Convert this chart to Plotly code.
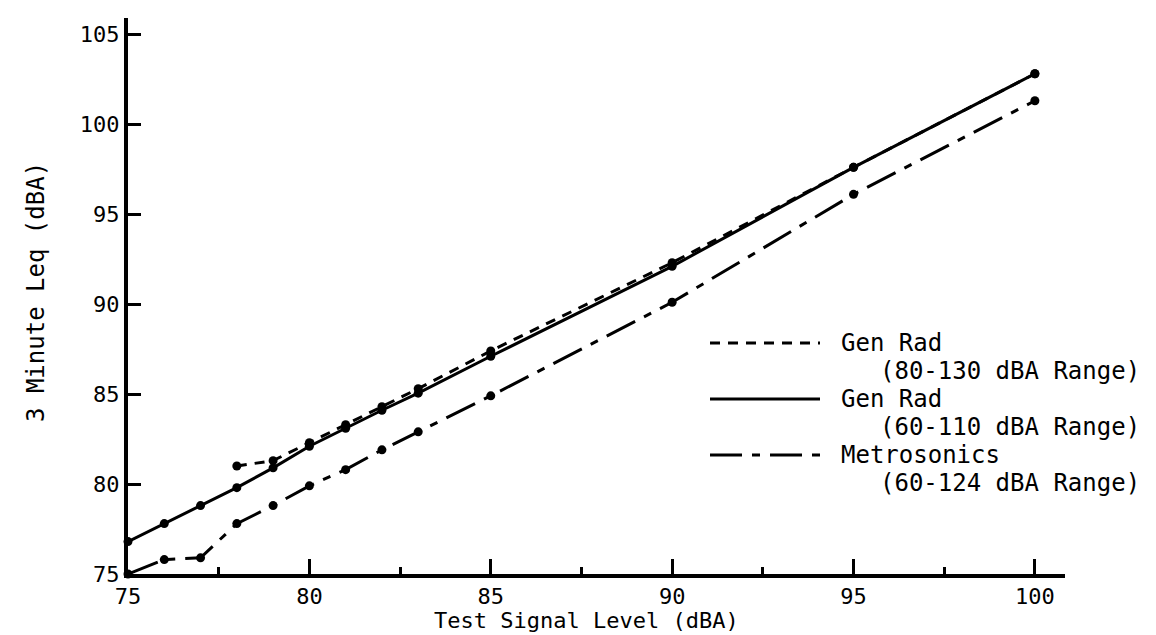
import plotly.graph_objects as go

# ---- data ----
x_gr80 = [78, 79, 80, 81, 82, 83, 85, 90, 95, 100]
y_gr80 = [81.0, 81.3, 82.3, 83.3, 84.3, 85.3, 87.4, 92.3, 97.6, 102.8]

x_gr60 = [75, 76, 77, 78, 79, 80, 81, 82, 83, 85, 90, 95, 100]
y_gr60 = [76.8, 77.8, 78.8, 79.8, 80.9, 82.1, 83.1, 84.1, 85.05, 87.1, 92.1, 97.6, 102.8]

x_met = [75, 76, 77, 78, 79, 80, 81, 82, 83, 85, 90, 95, 100]
y_met = [75.0, 75.8, 75.9, 77.8, 78.8, 79.9, 80.8, 81.9, 82.9, 84.9, 90.1, 96.1, 101.3]

x_ticks = [75, 80, 85, 90, 95, 100]
y_ticks = [75, 80, 85, 90, 95, 100, 105]

legend_names = ["Gen Rad", "Gen Rad", "Metrosonics"]
legend_ranges = ["(80-130 dBA Range)", "(60-110 dBA Range)", "(60-124 dBA Range)"]

FONT = "DejaVu Sans Mono"
W, H = 1156, 635
ML, MR, MT, MB = 120, 99, 10, 69
PW, PH = W - ML - MR, H - MT - MB


def px(xp):
    return (xp - ML) / PW


def py(yp):
    return (H - MB - yp) / PH


fig = go.Figure()

common = dict(mode="lines+markers", cliponaxis=False, showlegend=False,
              marker=dict(color="black", size=9))

DASH_GR80 = "10px,8px"
DASH_MET = "32px,10px,8px,10px"

fig.add_trace(go.Scatter(x=x_gr80, y=y_gr80, line=dict(color="black", width=3, dash=DASH_GR80), **common))
fig.add_trace(go.Scatter(x=x_met, y=y_met, line=dict(color="black", width=3, dash=DASH_MET), **common))
fig.add_trace(go.Scatter(x=x_gr60, y=y_gr60, line=dict(color="black", width=3), **common))

# manual legend (long line samples as in the original)
dashes = [DASH_GR80, "solid", DASH_MET]
row0, step = 335, 28
for i, (dash, name, rng) in enumerate(zip(dashes, legend_names, legend_ranges)):
    yr = row0 + 2 * i * step
    fig.add_shape(type="line", xref="paper", yref="paper",
                  x0=px(702), x1=px(812), y0=py(yr), y1=py(yr),
                  line=dict(color="black", width=3, dash=dash))
    fig.add_annotation(xref="paper", yref="paper", x=px(831), y=py(yr), text=name,
                       showarrow=False, xanchor="left", yanchor="middle",
                       font=dict(family=FONT, size=24, color="black"))
    fig.add_annotation(xref="paper", yref="paper", x=px(870), y=py(yr + step), text=rng,
                       showarrow=False, xanchor="left", yanchor="middle",
                       font=dict(family=FONT, size=24, color="black"))

# axis titles
fig.add_annotation(xref="paper", yref="paper", x=px(578), y=py(612),
                   text="Test Signal Level (dBA)", showarrow=False,
                   xanchor="center", yanchor="middle",
                   font=dict(family=FONT, size=22, color="black"))
fig.add_annotation(xref="paper", yref="paper", x=px(28), y=py(284),
                   text="3 Minute Leq (dBA)", showarrow=False, textangle=-90,
                   xanchor="center", yanchor="middle",
                   font=dict(family=FONT, size=24, color="black"))

fig.update_xaxes(range=[75, 100.83], tickvals=x_ticks, ticktext=[str(v) for v in x_ticks],
                 ticks="inside", ticklen=15, tickwidth=2.5, tickcolor="black",
                 showline=True, linecolor="black", linewidth=4,
                 showgrid=False, zeroline=False,
                 minor=dict(ticks="inside", ticklen=7, tickwidth=2.5, tickcolor="black",
                            tick0=75, dtick=2.5, showgrid=False),
                 tickfont=dict(family=FONT, size=22, color="black"))
fig.update_yaxes(range=[75, 105.9], tickvals=y_ticks, ticktext=[str(v) for v in y_ticks],
                 ticks="inside", ticklen=13, tickwidth=2.5, tickcolor="black",
                 showline=True, linecolor="black", linewidth=4,
                 showgrid=False, zeroline=False,
                 tickfont=dict(family=FONT, size=22, color="black"))

fig.update_layout(width=W, height=H, margin=dict(l=ML, r=MR, t=MT, b=MB, pad=0),
                  paper_bgcolor="white", plot_bgcolor="white", showlegend=False)

fig.write_html("out.html")
